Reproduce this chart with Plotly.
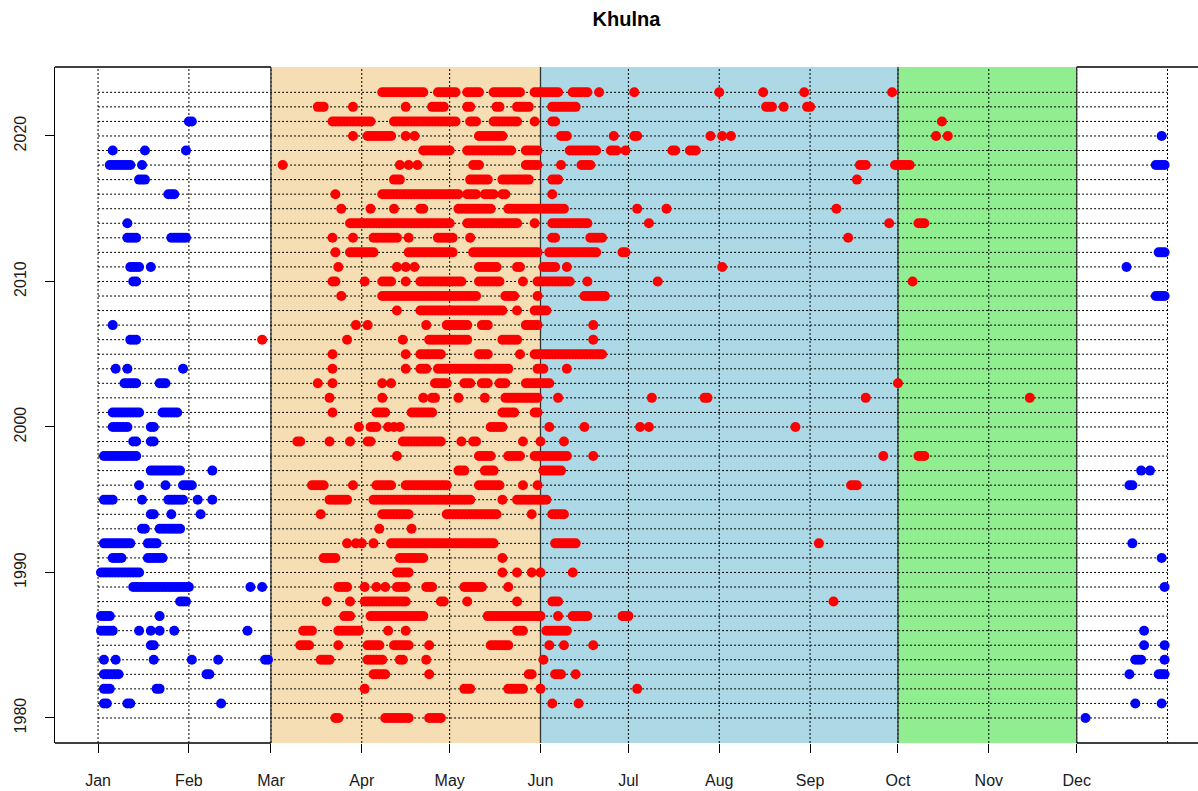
import plotly.graph_objects as go

# hot-day runs (year, first day-of-year, last day-of-year)
red_runs = [
    (2023, 98, 112), (2023, 117, 123), (2023, 127, 131), (2023, 136, 145), (2023, 150, 158),
    (2023, 163, 168), (2023, 172, 172), (2023, 184, 184), (2023, 213, 213), (2023, 228, 228),
    (2023, 242, 242), (2023, 272, 272),
    (2022, 76, 78), (2022, 88, 88), (2022, 106, 106), (2022, 115, 119), (2022, 127, 128),
    (2022, 137, 138), (2022, 144, 148), (2022, 156, 164), (2022, 229, 231), (2022, 235, 235),
    (2022, 243, 244),
    (2021, 81, 94), (2021, 102, 123), (2021, 128, 130), (2021, 136, 144), (2021, 150, 150),
    (2021, 156, 157), (2021, 289, 289),
    (2020, 88, 88), (2020, 93, 101), (2020, 106, 106), (2020, 109, 109), (2020, 131, 139),
    (2020, 159, 161), (2020, 177, 177), (2020, 184, 185), (2020, 210, 210), (2020, 214, 214),
    (2020, 217, 217), (2020, 287, 287), (2020, 291, 291),
    (2019, 112, 121), (2019, 127, 142), (2019, 147, 151), (2019, 162, 171), (2019, 176, 178),
    (2019, 181, 181), (2019, 197, 198), (2019, 203, 205),
    (2018, 64, 64), (2018, 104, 104), (2018, 107, 107), (2018, 110, 110), (2018, 129, 131),
    (2018, 147, 151), (2018, 159, 159), (2018, 166, 169), (2018, 261, 263), (2018, 273, 278),
    (2017, 102, 104), (2017, 128, 134), (2017, 139, 148), (2017, 156, 158), (2017, 260, 260),
    (2016, 82, 82), (2016, 98, 124), (2016, 127, 130), (2016, 133, 136), (2016, 139, 140),
    (2016, 156, 156),
    (2015, 84, 84), (2015, 94, 94), (2015, 102, 102), (2015, 111, 112), (2015, 124, 135),
    (2015, 141, 160), (2015, 185, 185), (2015, 195, 195), (2015, 253, 253),
    (2014, 87, 121), (2014, 127, 144), (2014, 150, 150), (2014, 156, 168), (2014, 189, 189),
    (2014, 271, 271), (2014, 281, 283),
    (2013, 81, 81), (2013, 88, 88), (2013, 95, 103), (2013, 107, 107), (2013, 117, 122),
    (2013, 128, 128), (2013, 156, 157), (2013, 169, 173), (2013, 257, 257),
    (2012, 82, 82), (2012, 87, 95), (2012, 107, 122), (2012, 129, 151), (2012, 155, 171),
    (2012, 180, 181),
    (2011, 83, 83), (2011, 103, 103), (2011, 106, 106), (2011, 109, 109), (2011, 131, 137),
    (2011, 144, 145), (2011, 153, 157), (2011, 161, 161), (2011, 214, 214),
    (2010, 81, 82), (2010, 92, 92), (2010, 98, 101), (2010, 106, 106), (2010, 111, 125),
    (2010, 131, 138), (2010, 146, 146), (2010, 151, 162), (2010, 168, 168), (2010, 192, 192),
    (2010, 279, 279),
    (2009, 84, 84), (2009, 98, 130), (2009, 140, 143), (2009, 151, 151), (2009, 167, 174),
    (2008, 103, 103), (2008, 111, 139), (2008, 144, 144), (2008, 150, 154),
    (2007, 89, 89), (2007, 93, 93), (2007, 113, 113), (2007, 120, 127), (2007, 132, 134),
    (2007, 147, 151), (2007, 170, 170),
    (2006, 57, 57), (2006, 86, 86), (2006, 105, 105), (2006, 114, 127), (2006, 139, 144),
    (2006, 170, 170),
    (2005, 81, 81), (2005, 106, 106), (2005, 111, 118), (2005, 131, 134), (2005, 145, 145),
    (2005, 150, 173),
    (2004, 81, 81), (2004, 106, 106), (2004, 111, 113), (2004, 117, 141), (2004, 151, 153),
    (2004, 161, 161),
    (2003, 76, 76), (2003, 81, 81), (2003, 98, 98), (2003, 101, 101), (2003, 116, 120),
    (2003, 126, 128), (2003, 132, 134), (2003, 138, 140), (2003, 147, 155), (2003, 274, 274),
    (2002, 80, 80), (2002, 98, 98), (2002, 112, 112), (2002, 115, 116), (2002, 124, 124),
    (2002, 133, 133), (2002, 140, 151), (2002, 158, 158), (2002, 190, 190), (2002, 208, 209),
    (2002, 263, 263), (2002, 319, 319),
    (2001, 81, 81), (2001, 96, 99), (2001, 108, 115), (2001, 139, 143), (2001, 150, 151),
    (2000, 90, 90), (2000, 94, 96), (2000, 100, 100), (2000, 102, 102), (2000, 104, 104),
    (2000, 135, 139), (2000, 155, 155), (2000, 167, 167), (2000, 186, 186), (2000, 189, 189),
    (2000, 239, 239),
    (1999, 69, 70), (1999, 80, 80), (1999, 87, 87), (1999, 93, 94), (1999, 105, 118),
    (1999, 125, 125), (1999, 129, 130), (1999, 146, 146), (1999, 152, 152), (1999, 160, 160),
    (1998, 103, 103), (1998, 131, 135), (1998, 141, 145), (1998, 150, 161), (1998, 170, 170),
    (1998, 269, 269), (1998, 281, 283),
    (1997, 124, 126), (1997, 133, 136), (1997, 153, 159),
    (1996, 74, 78), (1996, 88, 88), (1996, 96, 101), (1996, 106, 120), (1996, 131, 138),
    (1996, 146, 146), (1996, 151, 151), (1996, 258, 260),
    (1995, 80, 86), (1995, 95, 128), (1995, 139, 139), (1995, 144, 154),
    (1994, 77, 77), (1994, 98, 107), (1994, 120, 137), (1994, 149, 149), (1994, 156, 160),
    (1993, 97, 97), (1993, 108, 108),
    (1992, 86, 86), (1992, 89, 89), (1992, 91, 91), (1992, 95, 95), (1992, 101, 136),
    (1992, 157, 164), (1992, 247, 247),
    (1991, 78, 82), (1991, 104, 112), (1991, 139, 139),
    (1990, 103, 107), (1990, 139, 139), (1990, 144, 144), (1990, 149, 149), (1990, 152, 152),
    (1990, 163, 163),
    (1989, 83, 86), (1989, 92, 92), (1989, 96, 96), (1989, 99, 99), (1989, 103, 106),
    (1989, 113, 115), (1989, 126, 132), (1989, 141, 141),
    (1988, 79, 79), (1988, 87, 87), (1988, 92, 106), (1988, 118, 119), (1988, 127, 127),
    (1988, 144, 144), (1988, 156, 158), (1988, 252, 252),
    (1987, 85, 87), (1987, 94, 112), (1987, 134, 152), (1987, 158, 158), (1987, 163, 168),
    (1987, 180, 182),
    (1986, 71, 74), (1986, 83, 90), (1986, 100, 100), (1986, 106, 106), (1986, 144, 146),
    (1986, 154, 161),
    (1985, 70, 73), (1985, 83, 83), (1985, 93, 97), (1985, 102, 107), (1985, 114, 114),
    (1985, 135, 141), (1985, 155, 155), (1985, 160, 160), (1985, 170, 170),
    (1984, 77, 80), (1984, 93, 98), (1984, 104, 105), (1984, 113, 113), (1984, 153, 153),
    (1983, 95, 99), (1983, 114, 114), (1983, 148, 149), (1983, 157, 159), (1983, 164, 164),
    (1982, 92, 92), (1982, 126, 128), (1982, 141, 146), (1982, 152, 152), (1982, 185, 185),
    (1981, 156, 156), (1981, 165, 165),
    (1980, 82, 83), (1980, 99, 107), (1980, 114, 118),
]

# cold-day runs (year, first day-of-year, last day-of-year)
blue_runs = [
    (2021, 32, 33),
    (2020, 364, 364),
    (2019, 6, 6), (2019, 17, 17), (2019, 31, 31),
    (2018, 5, 12), (2018, 16, 16), (2018, 362, 365),
    (2017, 15, 17),
    (2016, 25, 27),
    (2014, 11, 11),
    (2013, 11, 14), (2013, 26, 31),
    (2012, 363, 365),
    (2011, 12, 15), (2011, 19, 19), (2011, 352, 352),
    (2010, 13, 14),
    (2009, 362, 365),
    (2007, 6, 6),
    (2006, 12, 14),
    (2004, 7, 7), (2004, 11, 11), (2004, 30, 30),
    (2003, 10, 14), (2003, 22, 24),
    (2001, 6, 15), (2001, 23, 28),
    (2000, 6, 11), (2000, 19, 20),
    (1999, 13, 14), (1999, 19, 20),
    (1998, 3, 14),
    (1997, 19, 29), (1997, 40, 40), (1997, 357, 357), (1997, 360, 360),
    (1996, 15, 15), (1996, 24, 24), (1996, 30, 33), (1996, 353, 354),
    (1995, 3, 6), (1995, 16, 16), (1995, 25, 30), (1995, 35, 35), (1995, 40, 40),
    (1994, 19, 20), (1994, 26, 26), (1994, 36, 36),
    (1993, 16, 17), (1993, 22, 29),
    (1992, 3, 12), (1992, 18, 21), (1992, 354, 354),
    (1991, 6, 9), (1991, 18, 23), (1991, 364, 364),
    (1990, 2, 15),
    (1989, 13, 32), (1989, 53, 53), (1989, 57, 57), (1989, 365, 365),
    (1988, 29, 31),
    (1987, 2, 5), (1987, 22, 22),
    (1986, 2, 6), (1986, 15, 15), (1986, 19, 19), (1986, 22, 22), (1986, 27, 27),
    (1986, 52, 52), (1986, 358, 358),
    (1985, 19, 20), (1985, 358, 358), (1985, 365, 365),
    (1984, 3, 3), (1984, 7, 7), (1984, 20, 20), (1984, 33, 33), (1984, 42, 42),
    (1984, 58, 59), (1984, 355, 357), (1984, 365, 365),
    (1983, 3, 8), (1983, 38, 39), (1983, 353, 353), (1983, 363, 365),
    (1982, 3, 5), (1982, 21, 22),
    (1981, 3, 4), (1981, 11, 12), (1981, 43, 43), (1981, 355, 355), (1981, 364, 364),
    (1980, 338, 338),
]

years = list(range(1980, 2024))
year_ticks = [1980, 1990, 2000, 2010, 2020]
month_names = ["Jan", "Feb", "Mar", "Apr", "May", "Jun", "Jul", "Aug", "Sep", "Oct", "Nov", "Dec"]
month_start = [1, 32, 60, 91, 121, 152, 182, 213, 244, 274, 305, 335]
year_end = 366
season_start = [60, 152, 274]
season_end = [152, 274, 335]
season_colors = ["#F5DEB3", "#ADD8E6", "#90EE90"]

x_lo, x_hi = -13.7, 376.4


def expand(runs):
    xs, ys = [], []
    for yr, d0, d1 in runs:
        for d in range(d0, d1 + 1):
            xs.append(d)
            ys.append(yr)
    return xs, ys


rx, ry = expand(red_runs)
bx, by = expand(blue_runs)

shapes = []
for s0, s1, c in zip(season_start, season_end, season_colors):
    shapes.append(dict(type="rect", xref="x", yref="paper", x0=s0, x1=s1, y0=0, y1=1,
                       fillcolor=c, line=dict(width=0), layer="below"))
for yr in years:
    shapes.append(dict(type="line", xref="x", yref="y", x0=1, x1=year_end, y0=yr, y1=yr,
                       line=dict(color="black", width=1, dash="2px,2px"), layer="below"))
for d in month_start + [year_end]:
    shapes.append(dict(type="line", xref="x", yref="paper", x0=d, x1=d, y0=0, y1=1,
                       line=dict(color="black", width=1, dash="2px,2px"), layer="below"))
for d in [season_start[0], season_end[0], season_end[1], season_end[2]]:
    shapes.append(dict(type="line", xref="x", yref="paper", x0=d, x1=d, y0=0, y1=1,
                       line=dict(color="#333333", width=1.3), layer="below"))
# box edges outside the shaded seasons
for yy in [0, 1]:
    shapes.append(dict(type="line", xref="x", yref="paper", x0=x_lo, x1=season_start[0], y0=yy, y1=yy,
                       line=dict(color="black", width=1.3)))
    shapes.append(dict(type="line", xref="x", yref="paper", x0=season_end[2], x1=x_hi, y0=yy, y1=yy,
                       line=dict(color="black", width=1.3)))

fig = go.Figure()
fig.add_trace(go.Scatter(x=bx, y=by, mode="markers", marker=dict(color="blue", size=10),
                         showlegend=False, hoverinfo="skip"))
fig.add_trace(go.Scatter(x=rx, y=ry, mode="markers", marker=dict(color="red", size=10),
                         showlegend=False, hoverinfo="skip"))

fig.update_layout(
    width=1198, height=791,
    margin=dict(l=55, r=0, t=67, b=48),
    paper_bgcolor="white", plot_bgcolor="white",
    font=dict(family="Liberation Sans, Arial, sans-serif", color="#1a1a1a", size=16),
    title=dict(text="<b>Khulna</b>", x=0.5, xref="paper", xanchor="center",
               y=1 - 19 / 791, yanchor="middle", font=dict(size=20, color="black")),
    shapes=shapes,
)
fig.update_xaxes(range=[x_lo, x_hi], tickvals=month_start, ticktext=month_names,
                 ticks="outside", ticklen=9, tickcolor="black", showgrid=False,
                 zeroline=False, showline=False, ticklabelstandoff=14, automargin=False)
fig.update_yaxes(range=[1978.28, 2024.74], tickvals=year_ticks, tickangle=-90,
                 ticks="outside", ticklen=9, tickcolor="black", showgrid=False,
                 zeroline=False, showline=True, linecolor="black", linewidth=1.3,
                 mirror=False, ticklabelstandoff=12, automargin=False)

# drop the page's default body margin so the figure sits at the window's corner
fig.write_html("out.html", config={"displayModeBar": False},
               post_script="document.body.style.margin='0';document.body.style.overflow='hidden';")
